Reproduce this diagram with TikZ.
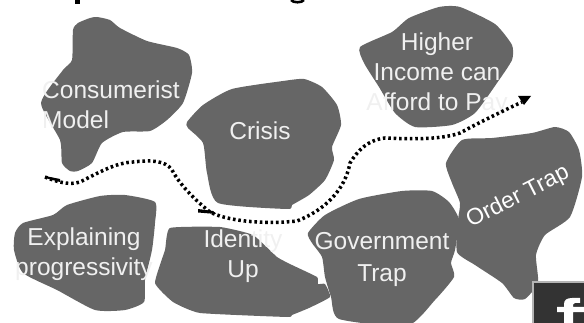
\documentclass[tikz,border=0pt]{standalone}
\usepackage{fontspec}
\setmainfont{Liberation Sans}
\definecolor{blob}{HTML}{666666}
\definecolor{pale}{HTML}{F0F0F0}
\definecolor{iconframe}{HTML}{B4B4B4}
\definecolor{icondark}{HTML}{333333}
\tikzset{
  x=1pt,y=-1pt,
  blobshape/.style={fill=blob,draw=none},
  txt/.style={text=pale,font=\fontsize{24.5}{30}\selectfont,inner sep=0pt},
  route/.style={draw=black,line width=3.5pt,dash pattern=on 2.6pt off 2.8pt},
  head/.style={fill=black,draw=none},
}
\begin{document}
\begin{tikzpicture}
\useasboundingbox (0,0) rectangle (584,323);
% descenders of a title cut by the top edge
\fill[black] (74.5,0) rectangle (79.5,4);
\draw[black,line width=2.6pt] (291,0) .. controls (293,3) and (302,3) .. (304,0);
% blobs
\path[blobshape] plot[smooth cycle,tension=0.35] coordinates {(97,17)(110,20)(120,28)(147,41)(177,48)(189,55)(192,73)(183,103)(167,120)(150,131)(123,132)(102,143)(92,163)(78,171)(70,171)(62,163)(60,140)(41,103)(63,70)(72,60)(73,30)(78,23)(90,18)};
\path[blobshape] plot[smooth cycle,tension=0.35] coordinates {(187,122)(203,105)(232,89)(283,81)(304,79)(322,87)(337,105)(341,125)(332,147)(334,160)(325,180)(309,195)(292,205)(287,209)(218,203)(207,173)(203,143)(188,128)};
\path[blobshape] plot[smooth cycle,tension=0.35] coordinates {(360,47)(392,32)(409,18)(439,7)(460,7)(495,24)(512,45)(512,60)(497,83)(475,113)(452,125)(415,127)(395,113)(379,87)(364,63)};
\path[blobshape] plot[smooth cycle,tension=0.35] coordinates {(446,163)(462,140)(492,138)(532,133)(555,127)(569,132)(579,150)(582,177)(570,217)(545,235)(536,255)(538,283)(525,299)(514,298)(502,283)(475,265)(457,252)(458,220)(460,203)(452,183)};
\path[blobshape] plot[smooth cycle,tension=0.35] coordinates {(308,233)(325,215)(359,199)(402,191)(432,191)(449,202)(459,220)(455,250)(451,263)(454,277)(435,300)(407,326)(339,319)(331,297)(325,277)(322,257)(312,243)};
\path[blobshape] plot[smooth cycle,tension=0.35] coordinates {(155,202)(125,195)(100,196)(67,205)(53,215)(23,223)(15,233)(14,250)(23,273)(57,290)(95,310)(125,310)(144,302)(145,280)(152,250)(155,223)};
\path[blobshape] plot[smooth cycle,tension=0.25] coordinates {(170,228)(220,227)(253,235)(277,257)(292,265)(317,277)(318,284)(325,284)(330,297)(309,308)(292,315)(287,317)(200,313)(173,302)(155,283)(165,250)};
% labels
\node[txt,align=left] (consumerist) at (111,105) {Consumerist\\Model};
\node[txt] (crisis) at (260,131) {Crisis};
\node[txt,align=center] (higher) at (437,74) {Higher\\Income can\\Afford to Pay};
\node[txt,align=center] (explaining) at (84,254) {Explaining\\progressivity};
\node[txt,align=center] (identity) at (243,256) {Identity\\Up};
\node[txt,align=center] (government) at (382,259) {Government\\[2pt]Trap};
\node[txt,text=white,font=\fontsize{23}{28}\selectfont,rotate=27] (order) at (518,197) {Order Trap};
% route
\coordinate (routestart) at (45,177);
\coordinate (routeend) at (522,102);
\draw[route] (routestart) .. controls (60,183) and (70,185) .. (80,182)
  .. controls (100,172) and (115,163) .. (133,162)
  .. controls (150,160) and (165,160) .. (172,170)
  .. controls (180,185) and (195,200) .. (210,212)
  .. controls (225,220) and (260,225) .. (297,221)
  .. controls (325,210) and (345,190) .. (350,163)
  .. controls (358,150) and (368,140) .. (385,138)
  .. controls (410,139) and (440,140) .. (460,133)
  .. controls (480,122) and (505,110) .. (routeend);
\fill[head] (45,176) -- (60,179) -- (60,182) -- (45,178) -- cycle;
\fill[head] (198,209) -- (213,211) -- (216,214) -- (198,212.5) -- cycle;
\fill[head] (518,96) -- (531,96) -- (524,105) -- cycle;
% icon in the corner
\fill[iconframe] (532,281) rectangle (584,323);
\fill[icondark] (534,283) rectangle (584,323);
\fill[white] (557,307) -- (564,307) -- (564,304) .. controls (564,300) and (567,298) .. (572,298) -- (580,298) -- (580,303) -- (575,303) .. controls (573,303) and (573,305) .. (573,307) -- (584,307) -- (584,312) -- (573,312) -- (573,323) -- (564,323) -- (564,312) -- (557,312) -- cycle;
\end{tikzpicture}
\end{document}
